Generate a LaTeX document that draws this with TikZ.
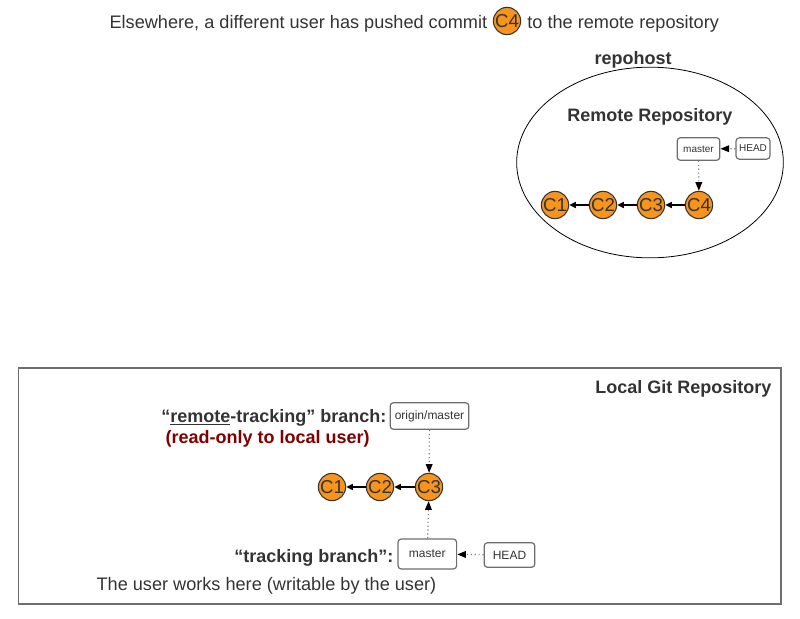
\documentclass[tikz,border=0pt]{standalone}
\usepackage{fontspec}
\setmainfont{Liberation Sans}
\usetikzlibrary{arrows.meta,shapes.geometric}

\definecolor{textgray}{HTML}{333333}
\definecolor{commitorange}{HTML}{F7941D}
\definecolor{refgray}{HTML}{6E6E6E}
\definecolor{readonlyred}{HTML}{800000}

\tikzset{
    plaintext/.style={text=textgray,inner sep=1pt,
        font=\fontsize{13.6}{16}\selectfont,text height=13pt,text depth=2pt},
    boldtext/.style={plaintext,font=\fontsize{13.5}{16}\selectfont\bfseries},
    commit/.style={circle,draw=textgray,line width=0.8pt,fill=commitorange,
        minimum size=20pt,inner sep=0pt,text=textgray,
        font=\fontsize{14}{14}\selectfont},
    ref/.style={rectangle,rounded corners=2.5pt,draw=refgray,line width=0.9pt,
        fill=white,text=textgray,inner sep=0pt},
}

\begin{document}
\begin{tikzpicture}[x=0.75pt,y=-0.75pt]
\useasboundingbox (0,0) rectangle (800,618);

% remote side
\node (repo) [ellipse,draw=black,line width=0.6pt,minimum width=200pt,
      minimum height=143pt] at (650,162.5) {};
\node (topC4) [commit] at (507,21) {C4};
\node (topleft) [plaintext,anchor=east,xshift=-3pt] at (topC4.west)
      {Elsewhere, a different user has pushed commit};
\node (topright) [plaintext,anchor=west,xshift=3.5pt] at (topC4.east)
      {to the remote repository};
\node (repohost) [boldtext] at (633,57) {repohost};
\node (remotename) [boldtext] at (650,114) {Remote Repository};

\begin{scope}[every node/.style={commit}]
    \node (rC1) at (555,205) {C1};
    \node (rC2) at (603,205) {C2};
    \node (rC3) at (651,205) {C3};
    \node (rC4) at (699,205) {C4};
\end{scope}

\begin{scope}[every node/.style={ref,font=\fontsize{7.5}{8}\selectfont}]
    \node (rmaster) [minimum width=32pt,minimum height=17pt] at (698.5,149) {master};
    \node (rhead) [minimum width=25.5pt,minimum height=16pt] at (753,148.5) {HEAD};
\end{scope}

% local side
\node (local) [rectangle,draw=refgray,line width=1pt,minimum width=572pt,
      minimum height=177pt] at (399.5,486) {};
\node (localname) [boldtext,anchor=east] at (773,386) {Local Git Repository};

\begin{scope}[every node/.style={commit}]
    \node (C1) at (332,487) {C1};
    \node (C2) at (380,487) {C2};
    \node (C3) at (429,487) {C3};
\end{scope}

\begin{scope}[every node/.style={ref,font=\fontsize{9}{10}\selectfont}]
    \node (origin) [minimum width=59pt,minimum height=20pt] at (429.5,416) {origin/master};
    \node (master) [minimum width=44pt,minimum height=22.5pt] at (427.3,554) {master};
    \node (head) [minimum width=38pt,minimum height=18.5pt] at (509.5,555) {HEAD};
\end{scope}

\node (rtlabel) [boldtext,anchor=east] at (388,415)
      {“\underline{remote}-tracking” branch:};
\node (rolabel) [boldtext,text=readonlyred,anchor=west] at (164,436)
      {(read-only to local user)};
\node (tlabel) [boldtext,anchor=east] at (395,555) {“tracking branch”:};
\node (userlabel) [plaintext,anchor=west] at (95,583)
      {The user works here (writable by the user)};

\begin{scope}[every edge/.style={draw=black,line width=1pt,
              -{Triangle[length=5pt,width=4.5pt]}}]
    \path (rC4) edge (rC3);
    \path (rC3) edge (rC2);
    \path (rC2) edge (rC1);
    \path (C3) edge (C2);
    \path (C2) edge (C1);
\end{scope}

\begin{scope}[every edge/.style={draw=gray,dotted,line width=0.9pt,
              -{Triangle[length=6.5pt,width=5pt,color=black]}}]
    \path (rhead) edge (rmaster);
    \path (rmaster) edge (rC4);
    \path (head) edge (master);
    \path (master) edge (C3);
    \path (origin) edge (C3);
\end{scope}
\end{tikzpicture}
\end{document}
